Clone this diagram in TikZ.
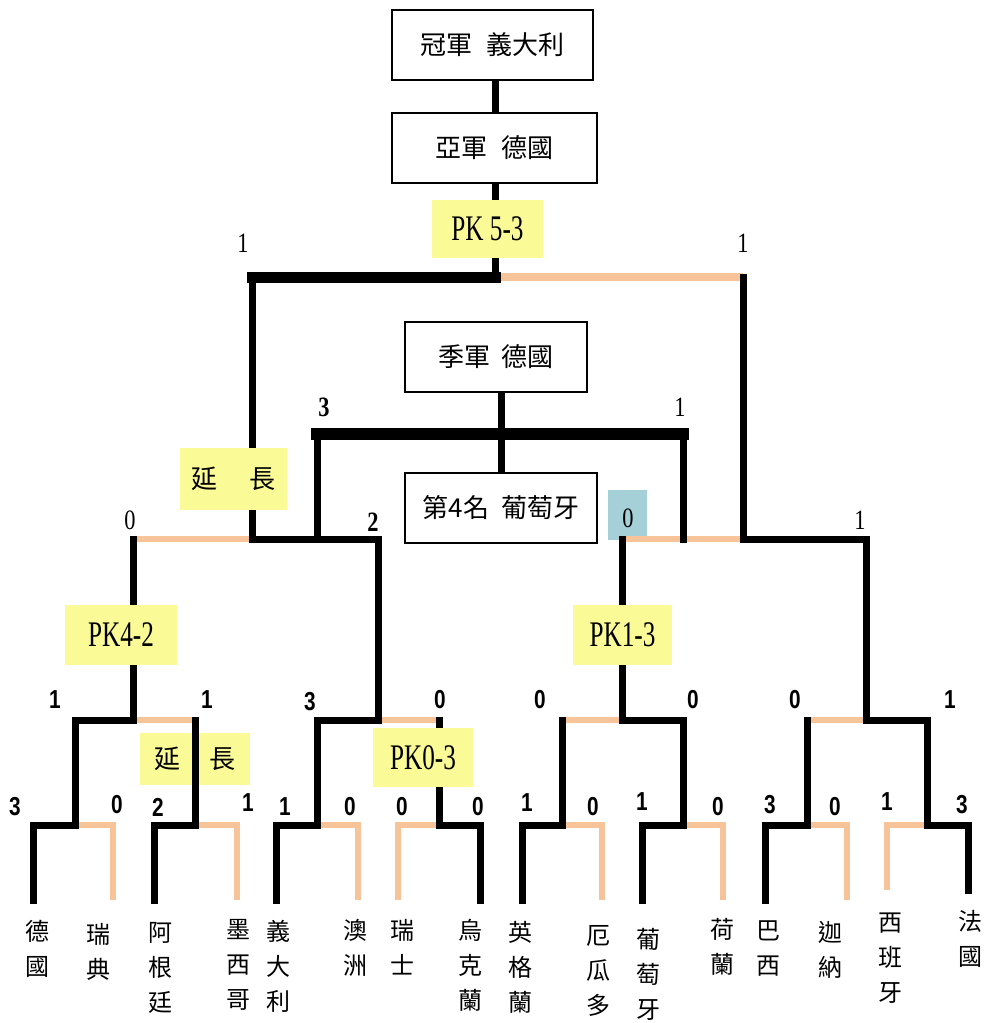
\documentclass[tikz,border=0pt]{standalone}
\usepackage{fontspec}
\usepackage{graphicx}
\newfontfamily\cjk{Noto Sans CJK TC}
\newfontfamily\serifd{Liberation Serif}
\newfontfamily\sansd{Liberation Sans}
\definecolor{tanc}{RGB}{246,196,152}
\definecolor{pkyel}{RGB}{250,250,150}
\definecolor{pkblue}{RGB}{165,208,215}
\newcommand\nx[1]{\scalebox{0.8}[1]{#1}}
\newcommand\pk[1]{\scalebox{0.7}[1]{#1}}
\begin{document}
\begin{tikzpicture}[x=1pt,y=-1pt,
  win/.style={line width=7pt,line cap=rect},
  lose/.style={line width=6pt,draw=tanc},
  winthick/.style={line width=11pt,line cap=rect},
  losethick/.style={line width=8pt,draw=tanc},
  thirdthick/.style={line width=12pt,line cap=rect},
  link/.style={line width=7pt},
  resbox/.style={draw,line width=1.6pt,fill=white,inner sep=0pt,minimum height=70pt,font=\cjk\fontsize{26}{26}\selectfont},
  yel/.style={fill=pkyel,inner sep=0pt},
  pktext/.style={yel,font=\serifd\fontsize{36}{36}\selectfont},
  exttext/.style={yel,font=\cjk\fontsize{26}{26}\selectfont},
  dg/.style={inner sep=0pt,font=\sansd\bfseries\fontsize{26}{26}\selectfont},
  dgs/.style={inner sep=0pt,font=\serifd\fontsize{28}{28}\selectfont},
  team/.style={anchor=north,inner sep=0pt,align=center,font=\cjk\fontsize{24}{35}\selectfont}
]
\useasboundingbox (0,0) rectangle (987,1023);

% ---------- coordinates ----------
\foreach \n/\x/\y in {t1/33/900,t2/113/900,t3/154/900,t4/237/900,t5/276/900,t6/358/900,
  t7/398/900,t8/480/900,t9/522/900,t10/602/900,t11/642/900,t12/723/900,t13/765/900,
  t14/847/900,t15/887/890,t16/968/890,
  a1/75/825,a2/195/825,a3/317/825,a4/439/825,a5/562/825,a6/683/825,a7/807/825,a8/927/825,
  b1/133/720,b2/378/720,b3/622/720,b4/866/720,
  c1/252/539,c2/743/539,d1/317/539,d2/683/539,
  f/495/277,th/501/434}
  \coordinate (\n) at (\x,\y);

% ---------- boxes drawn below lines ----------
\node[fill=pkblue,inner sep=0pt,minimum width=39pt,minimum height=50pt] (bluebox) at (627.5,515) {};
\node[exttext,minimum width=110pt,minimum height=52pt] (ext2) at (195,759) {延\hspace{29pt}長};
\node[resbox,minimum width=201pt] (box1) at (492.5,45) {冠軍\hspace{14pt}義大利};
\node[resbox,minimum width=205pt] (box2) at (494.5,148) {亞軍\hspace{14pt}德國};
\node[resbox,minimum width=182pt] (box3) at (496,357) {季軍\hspace{12pt}德國};
\node[resbox,minimum width=192pt] (box4) at (501,508) {第4名\hspace{12pt}葡萄牙};
\node[pktext,minimum width=111pt,minimum height=58pt] (pk53) at (487.5,229) {\pk{PK 5-3}};

% ---------- losing (tan) lines ----------
\draw[lose] (t2) |- (a1);
\draw[lose] (t4) |- (a2);
\draw[lose] (t6) |- (a3);
\draw[lose] (t7) |- (a4);
\draw[lose] (t10) |- (a5);
\draw[lose] (t12) |- (a6);
\draw[lose] (t14) |- (a7);
\draw[lose] (t15) |- (a8);
\draw[lose] (b1) -- (a2|-b1);
\draw[lose] (b2) -- (a4|-b2);
\draw[lose] (b3) -- (a5|-b3);
\draw[lose] (b4) -- (a7|-b4);
\draw[lose] (c1) -- (b1|-c1);
\draw[lose] (c2) -- (b3|-c2);
\draw[losethick] (f) -- (c2|-f);

% ---------- winning (black) lines ----------
\draw[win] (t1) |- (a1);
\draw[win] (t3) |- (a2);
\draw[win] (t5) |- (a3);
\draw[win] (t8) |- (a4);
\draw[win] (t9) |- (a5);
\draw[win] (t11) |- (a6);
\draw[win] (t13) |- (a7);
\draw[win] (t16) |- (a8);
\draw[win] (a1) |- (b1);
\draw[win] (a2) -- (a2|-b1);
\draw[win] (a3) |- (b2);
\draw[win] (a4) -- (a4|-b2);
\draw[win] (a6) |- (b3);
\draw[win] (a5) -- (a5|-b3);
\draw[win] (a8) |- (b4);
\draw[win] (a7) -- (a7|-b4);
\draw[win] (b2) |- (c1);
\draw[win] (b1) -- (b1|-c1);
\draw[win] (b4) |- (c2);
\draw[win] (b3) -- (b3|-c2);
\draw[win] (c1) -- (c1|-f);
\draw[win] (c2) -- (c2|-f);
\draw[winthick] (c1|-f) -- (f);
\draw[win] (d1) -- (d1|-th);
\draw[win] (d2) -- (d2|-th);
\draw[thirdthick] (d1|-th) -- (d2|-th);
\draw[link] (box3.south -| th) -- (box4.north -| th);
\draw[link] (box1.south -| f) -- (box2.north -| f);
\draw[link] (box2.south -| f) -- (pk53.north -| f);
\draw[link] (pk53.south -| f) -- (f);

% ---------- yellow boxes over lines ----------
\node[exttext,minimum width=107pt,minimum height=62pt] (ext1) at (233.5,479) {延\hspace{32pt}長};
\node[pktext,minimum width=112pt,minimum height=60pt] (pk42) at (121,635) {\pk{PK4-2}};
\node[pktext,minimum width=99pt,minimum height=60pt] (pk13) at (622.5,635) {\pk{PK1-3}};
\node[pktext,minimum width=100pt,minimum height=59pt] (pk03) at (423,757.5) {\pk{PK0-3}};

% ---------- scores ----------
\node[dgs] (sf1) at (243,243) {\nx{1}};
\node[dgs] (sf2) at (743,243) {\nx{1}};
\node[dgs] (st1) at (324,407) {\nx{\bfseries 3}};
\node[dgs] (st2) at (680,407) {\nx{1}};
\node[dgs] (ss1) at (130,520) {\nx{0}};
\node[dgs] (ss2) at (373,522) {\nx{\bfseries 2}};
\node[dgs] (ss3) at (628,518) {\nx{0}};
\node[dgs] (ss4) at (860,520) {\nx{1}};
\foreach \n/\x/\y/\v in {q1/55/700/1,q2/207/700/1,q3/310/702/3,q4/440/700/0,
  q5/540/700/0,q6/693/700/0,q7/795/700/0,q8/950/700/1,
  l1/15/807/3,l2/117/805/0,l3/158/807/2,l4/248/803/1,l5/285/807/1,l6/350/807/0,
  l7/402/807/0,l8/478/807/0,l9/527/803/1,l10/593/807/0,l11/642/802/1,l12/718/807/0,
  l13/770/805/3,l14/835/807/0,l15/887/802/1,l16/962/805/3}
  \node[dg] (\n) at (\x,\y) {\nx{\v}};

% ---------- team names ----------
\node[team] (n1) at (37,920) {德\\國};
\node[team] (n2) at (98,923) {瑞\\典};
\node[team] (n3) at (160,922) {阿\\根\\廷};
\node[team] (n4) at (238,919) {墨\\西\\哥};
\node[team] (n5) at (278,920) {義\\大\\利};
\node[team] (n6) at (355,919) {澳\\洲};
\node[team] (n7) at (402,919) {瑞\\士};
\node[team] (n8) at (470,919) {烏\\克\\蘭};
\node[team] (n9) at (520,921) {英\\格\\蘭};
\node[team] (n10) at (598,925) {厄\\瓜\\多};
\node[team] (n11) at (648,928) {葡\\萄\\牙};
\node[team] (n12) at (722,918) {荷\\蘭};
\node[team] (n13) at (768,921) {巴\\西};
\node[team] (n14) at (830,921) {迦\\納};
\node[team] (n15) at (890,913) {西\\班\\牙};
\node[team] (n16) at (970,910) {法\\國};
\end{tikzpicture}
\end{document}
